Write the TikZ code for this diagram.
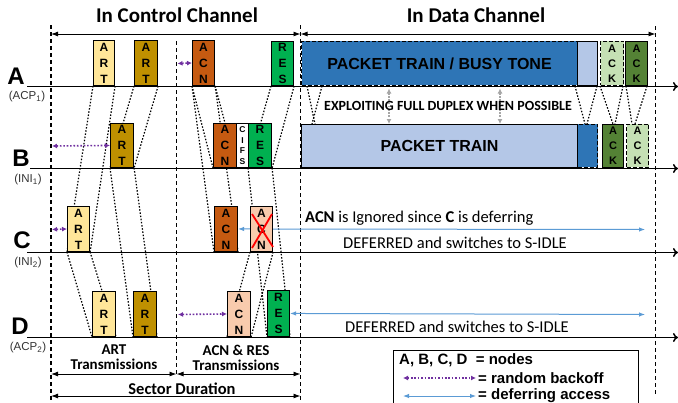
\documentclass[tikz,border=0pt]{standalone}
\usepackage{fontspec}
\setmainfont{Carlito}
\newfontfamily\arialf{Liberation Sans}
\usetikzlibrary{arrows.meta}
\definecolor{artl}{HTML}{FFE699}
\definecolor{artd}{HTML}{BF9000}
\definecolor{acno}{HTML}{C55A11}
\definecolor{acnp}{HTML}{F8CBAD}
\definecolor{resg}{HTML}{00B050}
\definecolor{blued}{HTML}{2E75B6}
\definecolor{bluel}{HTML}{B4C7E7}
\definecolor{ackd}{HTML}{548235}
\definecolor{ackl}{HTML}{C5E0B4}
\definecolor{purp}{HTML}{7030A0}
\definecolor{defb}{HTML}{5B9BD5}
\definecolor{grayar}{HTML}{A6A6A6}
\pgfdeclarelayer{back}
\pgfdeclarelayer{bg}
\pgfsetlayers{back,bg,main}
\tikzset{
  pkt/.style={draw=black, line width=1.1pt, inner sep=0pt, anchor=south west,
    minimum width=22pt, minimum height=45pt, align=center,
    font=\arialf\bfseries\fontsize{12}{16}\selectfont},
  ackbox/.style={pkt, font=\arialf\bfseries\fontsize{11}{15}\selectfont},
  cifsbox/.style={pkt, font=\arialf\bfseries\fontsize{8.5}{10.7}\selectfont},
  databox/.style={pkt, font=\arialf\bfseries\fontsize{16}{19}\selectfont},
  dashbox/.style={dash pattern=on 4pt off 2pt},
  prop/.style={draw=black, line width=1.2pt, dash pattern=on 1.5pt off 1.7pt},
  tline/.style={draw=black, line width=1.5pt, -{To[length=5pt,width=9pt]}},
  vdash/.style={draw=black, line width=1.1pt, dash pattern=on 4pt off 3pt},
  dimarr/.style={draw=black, line width=0.9pt, {Latex[length=7pt,width=5pt]}-{Latex[length=7pt,width=5pt]}},
  bko/.style={draw=purp, line width=1.6pt, dash pattern=on 1.6pt off 1.8pt, {Latex[length=5pt,width=5pt]}-{Latex[length=5pt,width=5pt]}},
  defer/.style={draw=defb, line width=1pt, {Latex[length=6pt,width=4.5pt]}-{Latex[length=6pt,width=4.5pt]}},
  grayarr/.style={draw=grayar, line width=1.3pt, dash pattern=on 1.5pt off 1.7pt, {Latex[length=5pt,width=5pt]}-{Latex[length=5pt,width=5pt]}},
  rowlab/.style={font=\arialf\bfseries\fontsize{24}{24}\selectfont, inner sep=0pt},
  sublab/.style={font=\arialf\fontsize{11.5}{12}\selectfont, text=black!80, inner sep=0pt},
  title/.style={font=\bfseries\fontsize{21}{22}\selectfont, inner sep=0pt},
  note/.style={font=\fontsize{16.5}{17}\selectfont, inner sep=0pt},
  bottxt/.style={font=\bfseries\fontsize{15}{15}\selectfont, align=center, inner sep=0pt},
  legtxt/.style={font=\arialf\bfseries\fontsize{15}{16}\selectfont, inner sep=0pt, anchor=west}
}
\begin{document}
\begin{tikzpicture}[x=1pt,y=-1pt]
\clip (0,0) rectangle (678,402);
\begin{pgfonlayer}{back}
\fill[white] (0,0) rectangle (678,402);
\end{pgfonlayer}

% titles
\node[title] (t1) at (177,15) {In Control Channel};
\node[title] (t2) at (476,15) {In Data Channel};

% vertical dashed lines
\coordinate (v1t) at (51,25);  \coordinate (v1b) at (51,402);
\coordinate (v2t) at (176.5,41); \coordinate (v2b) at (176.5,375);
\coordinate (v3t) at (300.5,25); \coordinate (v3b) at (300.5,402);
\coordinate (v4t) at (655.5,26); \coordinate (v4b) at (655.5,396);
\draw[vdash] (v1t) -- (v1b);
\draw[vdash] (v2t) -- (v2b);
\draw[vdash] (v3t) -- (v3b);
\draw[vdash] (v4t) -- (v4b);

% top dimension arrows
\coordinate (ta1) at (51,34); \coordinate (ta2) at (300.5,34); \coordinate (ta3) at (655.5,34);
\draw[dimarr] (ta1) -- (ta2);
\draw[dimarr] (ta2) -- (ta3);

% ---- boxes: row A
\node[pkt, fill=artl, minimum width=21pt] (aART1) at (93,86) {A\\R\\T};
\node[pkt, fill=artd, minimum width=23pt] (aART2) at (134,86) {A\\R\\T};
\node[pkt, fill=acno, minimum width=22pt] (aACN) at (192,86) {A\\C\\N};
\node[pkt, fill=resg, minimum width=22pt, minimum height=44pt] (aRES) at (271,86) {R\\E\\S};
% row B
\node[pkt, fill=artd, minimum width=23pt, minimum height=44pt] (bART) at (110,168) {A\\R\\T};
\node[pkt, fill=acno, minimum width=23pt, minimum height=44pt] (bACN) at (213,168) {A\\C\\N};
\node[cifsbox, fill=white, minimum width=12pt, minimum height=44pt] (bCIFS) at (236,168) {C\\I\\F\\S};
\node[pkt, fill=resg, minimum width=23pt, minimum height=44pt] (bRES) at (248,168) {R\\E\\S};
% row C
\node[pkt, fill=artl, minimum width=22pt] (cART) at (67,252) {A\\R\\T};
\node[pkt, fill=acno, minimum width=23pt] (cACN) at (214,252) {A\\C\\N};
% row D
\node[pkt, fill=artl, minimum width=23pt] (dART1) at (92,337) {A\\R\\T};
\node[pkt, fill=artd, minimum width=23pt] (dART2) at (133,337) {A\\R\\T};
\node[pkt, fill=acnp, minimum width=23pt] (dACN) at (227,337) {A\\C\\N};
\node[pkt, fill=resg, minimum width=22pt, minimum height=46pt] (dRES) at (267,337) {R\\E\\S};

% deferring arrows (behind the ignored ACN)
\draw[defer] (cACN.east) -- (645,229.5) coordinate (cdefend);
\draw[defer] (dRES.east) -- (645,314.5) coordinate (ddefend);

\node[pkt, fill=acnp, minimum width=22pt] (cACNx) at (250,252) {A\\C\\N};
\draw[red, line width=1.8pt] (252,214) -- (273,247);
\draw[red, line width=1.8pt] (272,214) -- (252,248);

% ---- data channel boxes
\node[databox, fill=blued, dashbox, minimum width=276pt, minimum height=44pt] (aPT) at (301,86) {PACKET TRAIN / BUSY TONE};
\node[pkt, fill=bluel, minimum width=20pt, minimum height=44pt] (aPTl) at (577,86) {};
\node[ackbox, fill=ackl, dashbox, minimum width=23pt, minimum height=44pt] (aACK1) at (600,86) {A\\C\\K};
\node[ackbox, fill=ackd, minimum width=22pt, minimum height=44pt] (aACK2) at (625,86) {A\\C\\K};
\node[databox, fill=bluel, minimum width=276pt, minimum height=43pt] (bPT) at (301,168) {PACKET TRAIN};
\node[pkt, fill=blued, dashbox, minimum width=20pt, minimum height=43pt] (bPTd) at (577,168) {};
\node[ackbox, fill=ackd, minimum width=21pt, minimum height=43pt] (bACK1) at (602,168) {A\\C\\K};
\node[ackbox, fill=ackl, dashbox, minimum width=22pt, minimum height=43pt] (bACK2) at (626,168) {A\\C\\K};

% ---- propagation lines (behind boxes)
\begin{pgfonlayer}{bg}
\draw[prop] (aART1.south west) -- (cART.south west);
\draw[prop] (aART1.south east) -- (cART.south east);
\draw[prop] (cART.south west) -- (dART1.south west);
\draw[prop] (cART.south east) -- (dART1.south east);
\draw[prop] (aART2.south west) -- (bART.south west);
\draw[prop] (aART2.south east) -- (bART.south east);
\draw[prop] (bART.south west) -- (dART2.south west);
\draw[prop] (bART.south east) -- (dART2.south east);
\draw[prop] (aACN.south west) -- (bACN.south west);
\draw[prop] (aACN.south east) -- (bACN.south east);
\draw[prop] (aACN.south west) -- (cACN.south west);
\draw[prop] (aACN.south east) -- (cACN.south east);
\draw[prop] (cACNx.south west) -- (dACN.south west);
\draw[prop] (cACNx.south east) -- (dACN.south east);
\draw[prop] (aRES.south west) -- (bRES.south west);
\draw[prop] (aRES.south east) -- (bRES.south east);
\draw[prop] (bRES.south west) -- (dRES.south west);
\draw[prop] (bRES.south east) -- (dRES.south east);
% data channel
\draw[prop] (307,86) -- (315,124);
\draw[prop] (322,86) -- (312,124);
\draw[prop] (575,86) -- (585,124);
\draw[prop] (597,86) -- (587,124);
\draw[prop] (600,86) -- (613,124);
\draw[prop] (623,86) -- (615,124);
\draw[prop] (626,86) -- (632,124);
\draw[prop] (647,86) -- (635,124);
\end{pgfonlayer}

% ---- timelines
\coordinate (tlA0) at (27,86.5);  \coordinate (tlA1) at (678,86.5);
\coordinate (tlB0) at (30,168.5); \coordinate (tlB1) at (678,168.5);
\coordinate (tlC0) at (27,252.5); \coordinate (tlC1) at (678,252.5);
\coordinate (tlD0) at (27,337.5); \coordinate (tlD1) at (678,337.5);
\draw[tline] (tlA0) -- (tlA1);
\draw[tline] (tlB0) -- (tlB1);
\draw[tline] (tlC0) -- (tlC1);
\draw[tline] (tlD0) -- (tlD1);

% row labels
\node[rowlab] (lA) at (16,76) {A};
\node[sublab] (sA) at (27,97) {(ACP\textsubscript{1})};
\node[rowlab] (lB) at (21,158) {B};
\node[sublab] (sB) at (28,180) {(INI\textsubscript{1})};
\node[rowlab] (lC) at (22,240) {C};
\node[sublab] (sC) at (28,263) {(INI\textsubscript{2})};
\node[rowlab] (lD) at (20,326) {D};
\node[sublab] (sD) at (28,348) {(ACP\textsubscript{2})};

% random backoff arrows
\draw[bko] (177.5,63.5) -- (aACN.west);
\draw[bko] (52,146) -- (bART.west);
\draw[bko] (52,229.5) -- (cART.west);
\draw[bko] (178,314.5) -- (dACN.west);

% full duplex
\draw[grayarr] (389,88.5) -- (389,124);
\draw[grayarr] (500,88.5) -- (500,124);
\node[font=\bfseries\fontsize{14}{14}\selectfont, inner sep=0pt] (fd) at (448,106) {EXPLOITING FULL DUPLEX WHEN POSSIBLE};

% notes
\node[note, anchor=west] (nC1) at (305,218) {\textbf{ACN} is Ignored since \textbf{C} is deferring};
\node[note] (nC2) at (455,243) {DEFERRED and switches to S-IDLE};
\node[note] (nD) at (457,327) {DEFERRED and switches to S-IDLE};

% bottom labels
\node[bottxt] (artT) at (114,357.5) {ART\\Transmissions};
\node[bottxt] (acnT) at (236,357.5) {ACN \& RES\\Transmissions};
\coordinate (ba1) at (51,374); \coordinate (ba2) at (176.5,374); \coordinate (ba3) at (300.5,374);
\draw[dimarr] (ba1) -- (ba2);
\draw[dimarr] (ba2) -- (ba3);
\node[font=\bfseries\fontsize{16.5}{16}\selectfont, inner sep=0pt] (sd) at (182,388.5) {Sector Duration};
\coordinate (sd1) at (51,396); \coordinate (sd2) at (300.5,396);
\draw[dimarr] (sd1) -- (sd2);

% legend
\node[draw=black, line width=1.2pt, minimum width=245pt, minimum height=70pt, anchor=north west, inner sep=0pt] (leg) at (393,350) {};
\node[legtxt] (l1) at (399,360) {A, B, C, D\ \ = nodes};
\coordinate (lp1) at (403,378); \coordinate (lp2) at (476,378);
\draw[bko, line width=1.3pt] (lp1) -- (lp2);
\node[legtxt] (l2) at (478,378) {= random backoff};
\coordinate (lb1) at (403,396); \coordinate (lb2) at (476,396);
\draw[defer] (lb1) -- (lb2);
\node[legtxt] (l3) at (478,396) {= deferring access};
\end{tikzpicture}
\end{document}
